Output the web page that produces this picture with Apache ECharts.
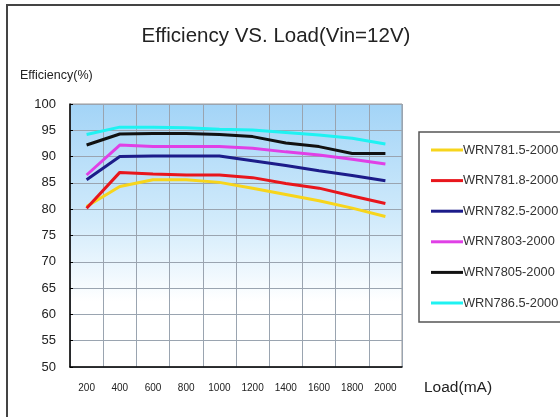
<!DOCTYPE html>
<html>
<head>
<meta charset="utf-8">
<script src="https://cdn.jsdelivr.net/npm/echarts@6/dist/echarts.min.js"></script>
<style>html,body{margin:0;padding:0;background:#fff;}#c{width:560px;height:417px;}</style>
</head>
<body>
<div id="c"></div>
<script>
var loads = ['200','400','600','800','1000','1200','1400','1600','1800','2000'];
var names = ['WRN781.5-2000','WRN781.8-2000','WRN782.5-2000','WRN7803-2000','WRN7805-2000','WRN786.5-2000'];
var wrn7815 = [80.5, 84.3, 85.6, 85.6, 85.1, 84.0, 82.8, 81.6, 80.2, 78.6];
var wrn7818 = [80.2, 87.0, 86.7, 86.5, 86.5, 86.0, 84.9, 84.0, 82.5, 81.1];
var wrn7825 = [85.6, 90.0, 90.1, 90.1, 90.1, 89.2, 88.3, 87.3, 86.4, 85.4];
var wrn7803 = [86.5, 92.2, 91.9, 91.9, 91.9, 91.6, 90.9, 90.3, 89.5, 88.6];
var wrn7805 = [92.2, 94.3, 94.4, 94.4, 94.2, 93.8, 92.6, 91.9, 90.6, 90.6];
var wrn7865 = [94.2, 95.6, 95.6, 95.5, 95.2, 95.05, 94.6, 94.1, 93.5, 92.4];
var yTicks = [50,55,60,65,70,75,80,85,90,95,100];
var colors = ['#f7d51c','#e8161c','#1c1c8a','#e040e6','#111111','#1ff2f2'];
var seriesData = [wrn7815, wrn7818, wrn7825, wrn7803, wrn7805, wrn7865];

var chart = echarts.init(document.getElementById('c'));
var series = seriesData.map(function(d, i){
  return {
    name: names[i], type: 'line', data: d, symbol: 'none',
    lineStyle: {color: colors[i], width: 3}, itemStyle: {color: colors[i]},
    z: 2 + i
  };
});
chart.setOption({
  animation: false,
  backgroundColor: '#fff',
  title: {
    text: 'Efficiency VS. Load(Vin=12V)', left: 271, top: 21, textAlign: 'center',
    textStyle: {fontFamily: 'Liberation Sans, Arial', fontSize: 20.5, fontWeight: 'normal', color: '#222'}
  },
  graphic: [
    {type: 'rect', shape: {x: 7, y: 5, width: 600, height: 500}, style: {fill: 'none', stroke: '#444', lineWidth: 2}, z: 10},
    {type: 'rect', shape: {x: 419, y: 132, width: 200, height: 190}, style: {fill: 'none', stroke: '#555', lineWidth: 1.5}, z: 10},
    {type: 'text', left: 20, top: 69, style: {text: 'Efficiency(%)', fontFamily: 'Liberation Sans, Arial', fontSize: 12.5, fill: '#222'}},
    {type: 'text', left: 424, top: 380, style: {text: 'Load(mA)', fontFamily: 'Liberation Sans, Arial', fontSize: 15.5, fill: '#222'}}
  ],
  legend: {
    orient: 'vertical', left: 426, top: 138,
    icon: 'rect', itemWidth: 32, itemHeight: 3, itemGap: 16.6,
    textStyle: {fontFamily: 'Liberation Sans, Arial', fontSize: 12.8, color: '#333', lineHeight: 14, padding: [0,0,0,-5]},
    data: names
  },
  grid: {
    left: 70, right: 158, top: 104, bottom: 50, show: true,
    borderColor: '#999', borderWidth: 1,
    backgroundColor: {type: 'linear', x: 0, y: 0, x2: 0, y2: 1, colorStops: [
      {offset: 0, color: '#a3d4f7'}, {offset: 0.45, color: '#d2ebfb'}, {offset: 0.75, color: '#ffffff'}, {offset: 1, color: '#ffffff'}
    ]}
  },
  xAxis: {
    type: 'category', data: loads, boundaryGap: true,
    axisLine: {lineStyle: {color: '#000', width: 1.5}},
    axisTick: {inside: true, length: 3, lineStyle: {color: '#000'}},
    axisLabel: {fontFamily: 'Liberation Sans, Arial', fontSize: 10, color: '#222', margin: 16, interval: 0},
    splitLine: {show: true, lineStyle: {color: '#9aa4b0', width: 1}}
  },
  yAxis: {
    type: 'value', min: 50, max: 100, interval: 5,
    axisLine: {show: true, lineStyle: {color: '#000', width: 1.5}},
    axisTick: {show: true, inside: true, length: 3, lineStyle: {color: '#000'}},
    axisLabel: {fontFamily: 'Liberation Sans, Arial', fontSize: 13, color: '#222', margin: 14,
      formatter: function(v){ return yTicks.indexOf(v) >= 0 ? String(v) : ''; }},
    splitLine: {show: true, lineStyle: {color: '#9aa4b0', width: 1}}
  },
  series: series
});
</script>
</body>
</html>
